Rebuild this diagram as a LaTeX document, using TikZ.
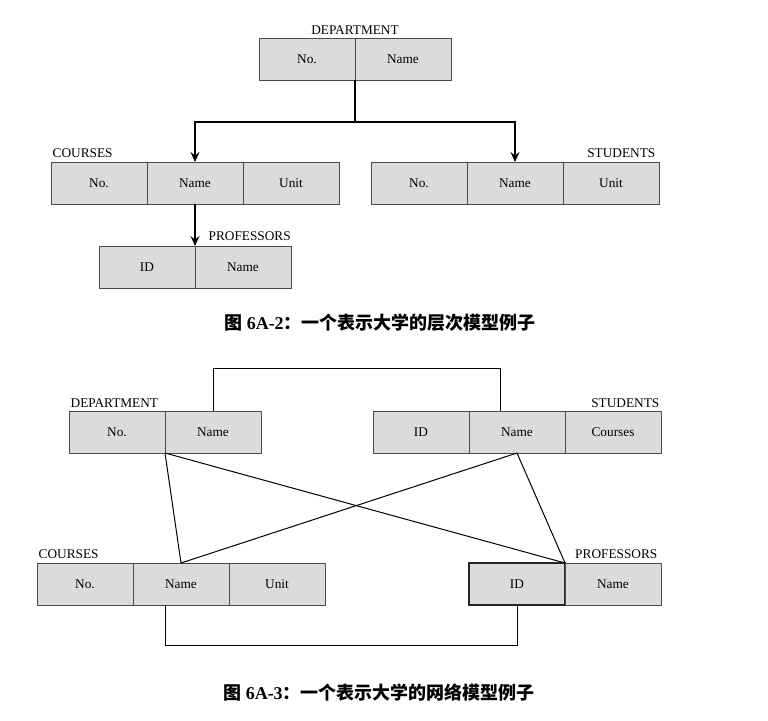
\documentclass[tikz,border=0pt]{standalone}
\usepackage{fontspec}
\setmainfont{Liberation Serif}
\newfontfamily\cjk{Noto Sans CJK SC}
\usepackage{tikz}
\usetikzlibrary{arrows.meta, positioning}

\begin{document}
\begin{tikzpicture}[
		x=1pt, y=1pt,
		font=\fontsize{13.3}{15}\selectfont,
		cell/.style={rectangle, draw=black!70, fill=black!14, line width=0.8pt,
			minimum width=96pt, minimum height=42pt, inner sep=0pt, outer sep=0pt},
		lbl/.style={inner sep=1.5pt},
		link/.style={line width=1pt},
		line/.style={-{Stealth[length=10pt, width=9pt, inset=3.5pt]}, line width=1.1pt},
		caption/.style={font=\fontsize{18}{20}\selectfont\bfseries}
		]
		\useasboundingbox (0,0) rectangle (768,720);
		
		% 1. Modelo jerarquico
		\node[cell] (d1no) at (307,661) {No.};
		\node[cell, right=0pt of d1no] (d1name) {Name};
		\node[lbl, above=2pt of d1no.north east] (d1lbl) {DEPARTMENT};
		
		\node[cell] (c1no) at (99,537) {No.};
		\node[cell, right=0pt of c1no] (c1name) {Name};
		\node[cell, right=0pt of c1name] (c1unit) {Unit};
		\node[lbl, above right=3pt and 0pt of c1no.north west] (c1lbl) {COURSES};
		
		\node[cell] (s1no) at (419,537) {No.};
		\node[cell, right=0pt of s1no] (s1name) {Name};
		\node[cell, right=0pt of s1name] (s1unit) {Unit};
		\node[lbl, above left=3pt and 2pt of s1unit.north east] (s1lbl) {STUDENTS};
		
		\node[cell] (p1id) at (147,453) {ID};
		\node[cell, right=0pt of p1id] (p1name) {Name};
		\node[lbl, above right=4pt and 12pt of p1id.north east] (p1lbl) {PROFESSORS};
		
		\draw[link, line width=1.1pt] (d1no.south east) -- ++(0,-42) coordinate (fork);
		\draw[line] (fork) -| (c1name.north);
		\draw[line] (fork) -| (s1name.north);
		\draw[line] (c1name.south) -- (p1id.north east);
		
		\node[caption] (cap1) at (380,397) {{\cjk 图} 6A-2{\cjk ：一个表示大学的层次模型例子}};
		
		% 2. Modelo de red
		\node[cell] (d2no) at (117,288) {No.};
		\node[cell, right=0pt of d2no] (d2name) {Name};
		\node[lbl, above right=2pt and 0pt of d2no.north west] (d2lbl) {DEPARTMENT};
		
		\node[cell] (s2id) at (421,288) {ID};
		\node[cell, right=0pt of s2id] (s2name) {Name};
		\node[cell, right=0pt of s2name] (s2courses) {Courses};
		\node[lbl, above left=2pt and 0pt of s2courses.north east] (s2lbl) {STUDENTS};
		
		\node[cell] (c2no) at (85,136) {No.};
		\node[cell, right=0pt of c2no] (c2name) {Name};
		\node[cell, right=0pt of c2name] (c2unit) {Unit};
		\node[lbl, above right=3pt and 0pt of c2no.north west] (c2lbl) {COURSES};
		
		\node[cell, draw=black!85, line width=1.2pt] (p2id) at (517,136) {ID};
		\node[cell, right=0pt of p2id] (p2name) {Name};
		\node[lbl, above left=3pt and 2pt of p2name.north east] (p2lbl) {PROFESSORS};
		
		% Enlaces
		\draw[link] (d2name.north) -- ++(0,42) -| ([xshift=-17pt]s2name.north);
		\draw[link] (d2no.south east) -- (c2name.north);
		\draw[link] (d2no.south east) -- (p2id.north east);
		\draw[link] (s2name.south) -- (c2name.north);
		\draw[link] (s2name.south) -- (p2id.north east);
		\draw[link] ([xshift=-16pt]c2name.south) -- ++(0,-41) -| (p2id.south);
		
		\node[caption] (cap2) at (379,27) {{\cjk 图} 6A-3{\cjk ：一个表示大学的网络模型例子}};
		
	\end{tikzpicture}
\end{document}
